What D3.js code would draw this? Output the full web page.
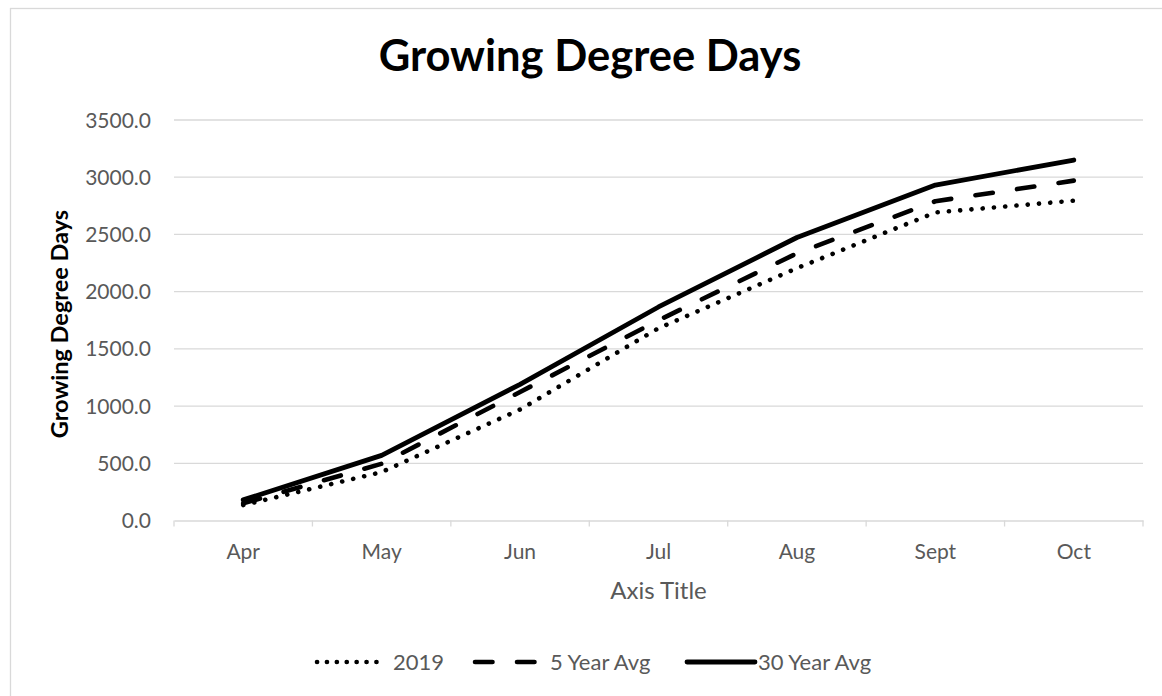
<!DOCTYPE html>
<html>
<head>
<meta charset="utf-8">
<script src="https://cdn.jsdelivr.net/npm/d3@7"></script>
<style>
  body { margin: 0; background: #fff; }
  text { font-family: Lato, "Noto Sans", sans-serif; }
</style>
</head>
<body>
<svg id="chart"></svg>
<script>
const months = ["Apr", "May", "Jun", "Jul", "Aug", "Sept", "Oct"];
const gdd2019 = [135, 423, 970, 1680, 2205, 2692, 2795];
const gdd5yr = [150, 496, 1123, 1750, 2335, 2790, 2970];
const gdd30yr = [180, 569, 1190, 1866, 2473, 2931, 3150];
const seriesNames = ["2019", "5 Year Avg", "30 Year Avg"];
const yTicks = [0, 500, 1000, 1500, 2000, 2500, 3000, 3500];

const width = 1162;
const height = 696;

const svg = d3.select("#chart")
    .attr("width", width)
    .attr("height", height);

// chart border
svg.append("rect")
    .attr("x", 10.5)
    .attr("y", 8.5)
    .attr("width", 1180)
    .attr("height", 720)
    .attr("fill", "#fff")
    .attr("stroke", "#d9d9d9")
    .attr("stroke-width", 1.3);

const margin = { top: 120, left: 174, right: 1143, bottom: 520.5 };

const xScale = d3.scaleBand()
    .domain(months)
    .range([margin.left, margin.right]);

const yScale = d3.scaleLinear()
    .domain([0, 3500])
    .range([margin.bottom, margin.top]);

// gridlines
svg.append("g")
    .selectAll("line")
    .data(yTicks.slice(1))
    .enter()
    .append("line")
    .attr("x1", margin.left)
    .attr("x2", margin.right)
    .attr("y1", d => yScale(d))
    .attr("y2", d => yScale(d))
    .attr("stroke", "#d9d9d9")
    .attr("stroke-width", 1.3);

// y axis labels
svg.append("g")
    .selectAll("text")
    .data(yTicks)
    .enter()
    .append("text")
    .attr("x", 151)
    .attr("y", d => yScale(d))
    .attr("dy", "0.36em")
    .attr("text-anchor", "end")
    .attr("fill", "#595959")
    .attr("font-size", 21)
    .text(d => d3.format(".1f")(d));

// x axis
const xAxis = svg.append("g")
    .attr("transform", `translate(0,${margin.bottom})`)
    .call(d3.axisBottom(xScale).tickSizeInner(0).tickSizeOuter(0));
xAxis.select(".domain").attr("stroke", "#d9d9d9").attr("stroke-width", 1.3);
xAxis.selectAll(".tick text")
    .attr("y", 31)
    .attr("dy", "0.36em")
    .attr("fill", "#595959")
    .attr("font-size", 21)
    .attr("font-family", "Lato, sans-serif");

// x tick marks between categories
const tickPos = months.map(m => xScale(m)).concat([margin.right]);
svg.append("g")
    .selectAll("line")
    .data(tickPos)
    .enter()
    .append("line")
    .attr("x1", d => d)
    .attr("x2", d => d)
    .attr("y1", margin.bottom)
    .attr("y2", margin.bottom + 6)
    .attr("stroke", "#d9d9d9")
    .attr("stroke-width", 1.3);

// titles
svg.append("text")
    .attr("x", 590)
    .attr("y", 71)
    .attr("text-anchor", "middle")
    .attr("font-weight", "bold")
    .attr("font-size", 43.5)
    .attr("fill", "#000")
    .text("Growing Degree Days");

svg.append("text")
    .attr("transform", "rotate(-90)")
    .attr("x", -324)
    .attr("y", 68)
    .attr("text-anchor", "middle")
    .attr("font-weight", "bold")
    .attr("font-size", 23.5)
    .attr("fill", "#000")
    .text("Growing Degree Days");

svg.append("text")
    .attr("x", (margin.left + margin.right) / 2)
    .attr("y", 590)
    .attr("dy", "0.36em")
    .attr("text-anchor", "middle")
    .attr("fill", "#595959")
    .attr("font-size", 24)
    .text("Axis Title");

// series
const styles = [
    { dash: "0.1,11.2", width: 4.6 },
    { dash: "17.5,24.5", width: 4.6 },
    { dash: null, width: 4.8 }
];
const allSeries = [gdd2019, gdd5yr, gdd30yr];

const line = d3.line()
    .x((d, i) => xScale(months[i]) + xScale.bandwidth() / 2)
    .y(d => yScale(d));

allSeries.forEach((s, k) => {
    svg.append("path")
        .datum(s)
        .attr("fill", "none")
        .attr("stroke", "#000")
        .attr("stroke-width", styles[k].width)
        .attr("stroke-linecap", "round")
        .attr("stroke-linejoin", "round")
        .attr("stroke-dasharray", styles[k].dash)
        .attr("d", line);
});

// legend
const legendPos = [
    { x: 317, tx: 393 },
    { x: 475, tx: 550 },
    { x: 687, tx: 758 }
];
const legendY = 662;
seriesNames.forEach((name, k) => {
    const g = svg.append("g");
    g.append("line")
        .attr("x1", legendPos[k].x)
        .attr("x2", legendPos[k].x + (k === 2 ? 68 : 60))
        .attr("y1", legendY)
        .attr("y2", legendY)
        .attr("stroke", "#000")
        .attr("stroke-width", styles[k].width)
        .attr("stroke-linecap", "round")
        .attr("stroke-dasharray", k === 0 ? "0.1,9.8" : styles[k].dash);
    g.append("text")
        .attr("x", legendPos[k].tx)
        .attr("y", legendY)
        .attr("dy", "0.36em")
        .attr("fill", "#595959")
        .attr("font-size", 22)
        .text(name);
});
</script>
</body>
</html>
